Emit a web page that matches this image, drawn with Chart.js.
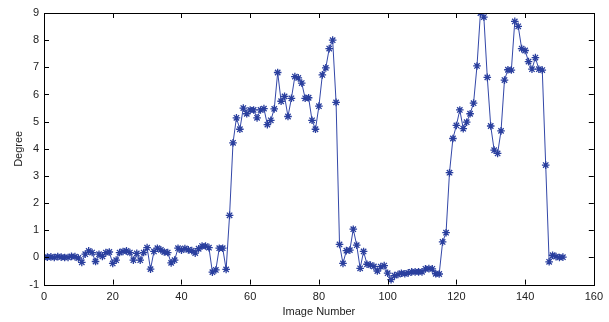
<!DOCTYPE html>
<html>
<head>
<meta charset="utf-8">
<script src="https://cdn.jsdelivr.net/npm/chart.js@4.4.1/dist/chart.umd.min.js"></script>
<style>
  html, body { margin: 0; padding: 0; background: #fff; }
  #wrap { width: 609px; height: 322px; }
</style>
</head>
<body>
<div id="wrap"><canvas id="myChart" width="609" height="322"></canvas></div>
<script>
// degree per image (image number = index)
var degree = [
  0, 0.01, 0.02, 0, 0.03, 0.01, 0, 0, 0.04, 0.03,
  -0.02, -0.18, 0.12, 0.24, 0.18, -0.15, 0.12, 0.04, 0.18, 0.2,
  -0.22, -0.1, 0.18, 0.22, 0.24, 0.18, -0.1, 0.15, -0.1, 0.18,
  0.36, -0.43, 0.22, 0.34, 0.28, 0.2, 0.18, -0.2, -0.1, 0.34,
  0.27, 0.33, 0.28, 0.25, 0.16, 0.32, 0.42, 0.42, 0.36, -0.54,
  -0.46, 0.34, 0.34, -0.44, 1.55, 4.22, 5.14, 4.72, 5.5, 5.29,
  5.43, 5.43, 5.14, 5.43, 5.48, 4.89, 5.05, 5.47, 6.81, 5.75,
  5.93, 5.19, 5.86, 6.66, 6.61, 6.42, 5.86, 5.88, 5.05, 4.72,
  5.57, 6.72, 6.98, 7.69, 8.0, 5.71, 0.48, -0.22, 0.25, 0.27,
  1.04, 0.45, -0.4, 0.22, -0.25, -0.28, -0.33, -0.5, -0.34, -0.3,
  -0.58, -0.82, -0.67, -0.63, -0.58, -0.6, -0.57, -0.53, -0.53, -0.53,
  -0.53, -0.42, -0.41, -0.42, -0.6, -0.61, 0.57, 0.91, 3.12, 4.38,
  4.86, 5.43, 4.74, 4.98, 5.29, 5.68, 7.05, 9.0, 8.85, 6.63,
  4.84, 3.95, 3.83, 4.66, 6.53, 6.91, 6.9, 8.69, 8.51, 7.69,
  7.62, 7.21, 6.93, 7.36, 6.93, 6.9, 3.4, -0.16, 0.08, 0.03,
  0.0, 0.01
];
var xTicks = [0, 20, 40, 60, 80, 100, 120, 140, 160];
var yTicks = [-1, 0, 1, 2, 3, 4, 5, 6, 7, 8, 9];

var points = degree.map(function (v, i) { return { x: i, y: v }; });

// matlab style box with inward ticks
var boxPlugin = {
  id: 'box',
  afterDraw: function (chart) {
    var ctx = chart.ctx, a = chart.chartArea;
    var xs = chart.scales.x, ys = chart.scales.y;
    var len = 5;
    ctx.save();
    ctx.strokeStyle = '#000';
    ctx.lineWidth = 1;
    ctx.beginPath();
    xTicks.forEach(function (t) {
      var px = Math.round(xs.getPixelForValue(t)) + 0.5;
      ctx.moveTo(px, a.bottom); ctx.lineTo(px, a.bottom - len);
      ctx.moveTo(px, a.top); ctx.lineTo(px, a.top + len);
    });
    yTicks.forEach(function (t) {
      var py = Math.round(ys.getPixelForValue(t)) + 0.5;
      ctx.moveTo(a.left, py); ctx.lineTo(a.left + len, py);
      ctx.moveTo(a.right, py); ctx.lineTo(a.right - len, py);
    });
    ctx.stroke();
    ctx.strokeRect(Math.round(a.left) + 0.5, Math.round(a.top) + 0.5,
      Math.round(a.right - a.left), Math.round(a.bottom - a.top));
    ctx.restore();
  }
};

var chart = new Chart(document.getElementById('myChart'), {
  type: 'line',
  data: {
    datasets: [{
      data: points,
      borderColor: '#3347a8',
      backgroundColor: '#3347a8',
      borderWidth: 1,
      pointStyle: 'star',
      pointRadius: 3.8,
      pointBorderWidth: 1.3,
      pointBorderColor: '#2a3f9e',
      tension: 0,
      fill: false
    }]
  },
  options: {
    responsive: false,
    animation: false,
    layout: { padding: { top: 13, right: 14, left: 12, bottom: 3 } },
    plugins: { legend: { display: false }, tooltip: { enabled: false } },
    scales: {
      x: {
        type: 'linear',
        min: 0, max: 160,
        afterBuildTicks: function (s) { s.ticks = xTicks.map(function (v) { return { value: v }; }); },
        grid: { display: false, drawTicks: false },
        border: { display: false },
        ticks: { padding: 6, color: '#222', font: { family: 'Liberation Sans', size: 11 }, maxRotation: 0 },
        title: { display: true, text: 'Image Number', color: '#222', padding: { top: -4, bottom: 0 }, font: { family: 'Liberation Sans', size: 11 } }
      },
      y: {
        min: -1, max: 9,
        afterBuildTicks: function (s) { s.ticks = yTicks.map(function (v) { return { value: v }; }); },
        afterFit: function (s) { s.width = 32; },
        grid: { display: false, drawTicks: false },
        border: { display: false },
        ticks: { padding: 5, color: '#222', font: { family: 'Liberation Sans', size: 11 } },
        title: { display: true, text: 'Degree', color: '#222', padding: { top: 0, bottom: 0 }, font: { family: 'Liberation Sans', size: 11 } }
      }
    }
  },
  plugins: [boxPlugin]
});
</script>
</body>
</html>
